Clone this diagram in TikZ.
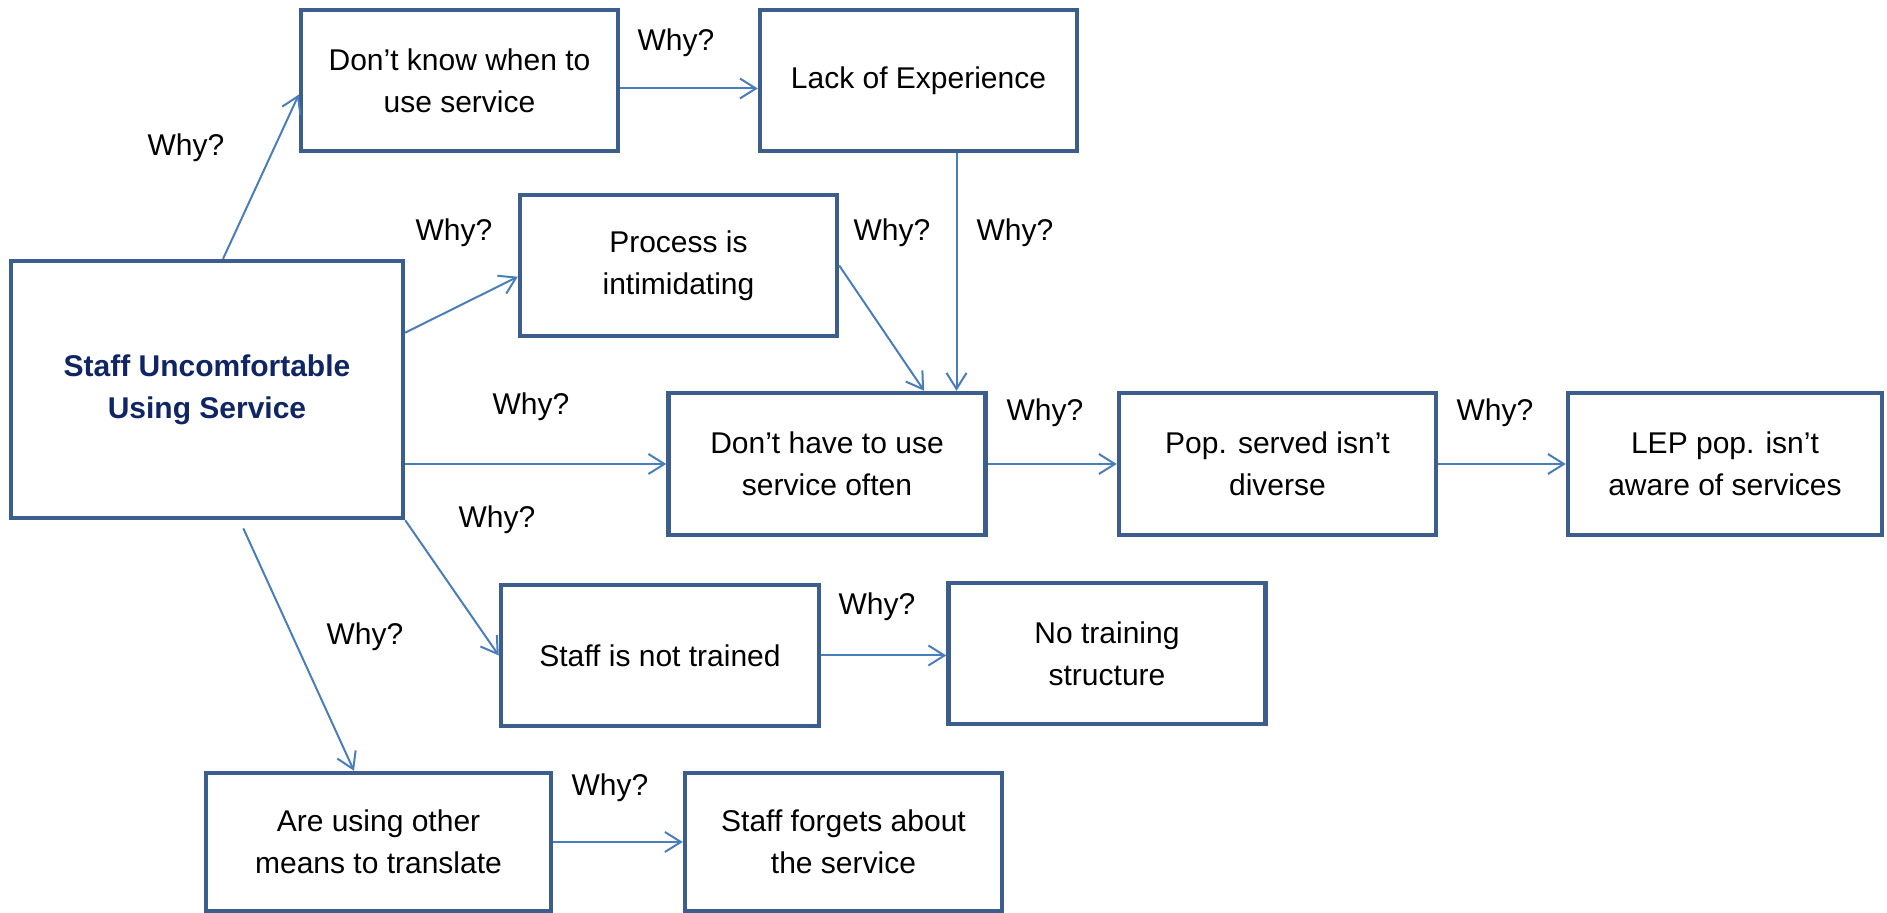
\documentclass[tikz,border=0pt]{standalone}
\usepackage{fontspec}
\setmainfont{Liberation Sans}
\usetikzlibrary{arrows.meta}
\definecolor{boxline}{RGB}{59,94,140}
\definecolor{arrowline}{RGB}{74,126,187}
\definecolor{roottext}{RGB}{16,37,99}

\begin{document}
\begin{tikzpicture}[x=0.5pt, y=-0.5pt,
    cause/.style={draw=boxline, line width=2.2pt, align=center, inner sep=0pt,
      minimum width=158.5pt, minimum height=70.5pt, font=\fontsize{15}{21}\selectfont},
    link/.style={draw=arrowline, line width=1pt, -{Straight Barb[length=8pt,width=10pt]}},
    ask/.style={font=\fontsize{15}{21}\selectfont}]
  \useasboundingbox (0,0) rectangle (1887,913);

  % Boxes:
  \node[cause, minimum width=196pt, minimum height=128.5pt, text=roottext,
    font=\fontsize{15}{21}\selectfont\bfseries] (root) at (207,389.5)
    {Staff Uncomfortable\\Using Service};
  \node[cause] (know) at (459.5,80.5) {Don’t know when to\\use service};
  \node[cause] (lack) at (918.5,80.5) {Lack of Experience};
  \node[cause] (proc) at (678.5,265.5) {Process is\\intimidating};
  \node[cause, minimum height=71pt] (often) at (827,464) {Don’t have to use\\service often};
  \node[cause, minimum height=71pt] (pop) at (1277.5,464) {Pop. served isn’t\\diverse};
  \node[cause, minimum width=157pt, minimum height=71pt] (lep) at (1725,464)
    {LEP pop. isn’t\\aware of services};
  \node[cause, minimum width=159pt] (train) at (660,655.5) {Staff is not trained};
  \node[cause] (struct) at (1107,653.5) {No training\\structure};
  \node[cause, minimum width=172.5pt, minimum height=69pt] (other) at (378.5,842)
    {Are using other\\means to translate};
  \node[cause, minimum height=69pt] (forget) at (843.5,842)
    {Staff forgets about\\the service};

  % Arrows:
  \draw[link] (root.83) -- (know.185);
  \draw[link] ([yshift=-4pt]know.east) -- ([yshift=-4pt]lack.west);
  \draw[link] (root.16) -- (proc.184);
  \draw[link] (proc.east) -- (often.37);
  \draw[link] ([xshift=19pt]lack.south) -- ([xshift=19pt]lack.south |- often.north);
  \draw[link] (root.east |- often.west) -- (often.west);
  \draw[link] (often.east) -- (pop.west);
  \draw[link] (pop.east) -- (lep.west);
  \draw[link] (root.south east) -- (train.west);
  \draw[link, shorten <=4.5pt] (root.-76) -- (other.109);
  \draw[link] (train.east) -- (train.east -| struct.west);
  \draw[link] (other.east) -- (forget.west);

  % Why labels:
  \node[ask] (w1) at (186,148) {Why?};
  \node[ask] (w2) at (676,43) {Why?};
  \node[ask] (w3) at (454,233) {Why?};
  \node[ask] (w4) at (892,233) {Why?};
  \node[ask] (w5) at (1015,233) {Why?};
  \node[ask] (w6) at (531,407) {Why?};
  \node[ask] (w7) at (1045,413) {Why?};
  \node[ask] (w8) at (1495,413) {Why?};
  \node[ask] (w9) at (497,520) {Why?};
  \node[ask] (w10) at (365,637) {Why?};
  \node[ask] (w11) at (877,607) {Why?};
  \node[ask] (w12) at (610,788) {Why?};
\end{tikzpicture}
\end{document}
